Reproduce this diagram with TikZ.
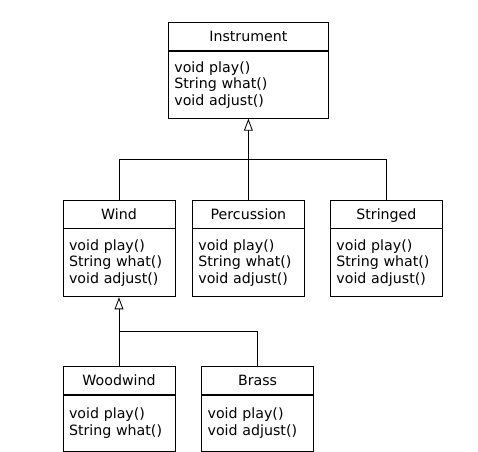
\documentclass[tikz,border=0pt]{standalone}
\usepackage{fontspec}
\setmainfont{DejaVu Sans}
\usepackage{tikz}
\usetikzlibrary{positioning,arrows.meta}

\begin{document}
\begin{tikzpicture}[xscale=1, yscale=1, line width=0.6pt,
  classname/.style={draw, minimum width=#1, minimum height=0.7cm, inner sep=0pt, text height=0.73em, text depth=0pt, font=\fontsize{10.1}{11.7}\selectfont},
  classops/.style={draw, text width=#1, align=left, inner xsep=0.15cm, inner ysep=0.2cm, font=\fontsize{10.1}{11.7}\selectfont},
  isa/.style={-{Triangle[open, length=0.3cm, width=0.22cm]}}]
\useasboundingbox (0,0) rectangle (11.95,-11.275);

% base class
\node[classname=4cm] (instrument) at (6.21,-0.91) {Instrument};
\node[classops=3.7cm, minimum height=1.675cm, below=0pt of instrument] (instrumentops) {void play()\\String what()\\void adjust()};

% first level
\node[classname=2.8cm] (wind) at (2.975,-5.35) {Wind};
\node[classops=2.5cm, minimum height=1.7cm, below=0pt of wind] (windops) {void play()\\String what()\\void adjust()};
\node[classname=2.8cm] (percussion) at (6.21,-5.35) {Percussion};
\node[classops=2.5cm, minimum height=1.7cm, below=0pt of percussion] (percussionops) {void play()\\String what()\\void adjust()};
\node[classname=2.8cm] (stringed) at (9.66,-5.35) {Stringed};
\node[classops=2.5cm, minimum height=1.7cm, below=0pt of stringed] (stringedops) {void play()\\String what()\\void adjust()};

% second level
\node[classname=2.8cm] (woodwind) at (2.975,-9.51) {Woodwind};
\node[classops=2.5cm, minimum height=1.4cm, below=0pt of woodwind] (woodwindops) {void play()\\String what()};
\node[classname=2.8cm] (brass) at (6.44,-9.51) {Brass};
\node[classops=2.5cm, minimum height=1.4cm, below=0pt of brass] (brassops) {void play()\\void adjust()};

% inheritance
\coordinate (busA) at (0,-3.975);
\coordinate (busB) at (0,-8.275);
\draw[isa] (percussion.north) -- (instrumentops.south);
\draw (wind.north) -- (wind.north |- busA) -- (stringed.north |- busA) -- (stringed.north);
\draw[isa] (woodwind.north) -- (windops.south);
\draw (woodwind.north |- busB) -- (brass.north |- busB) -- (brass.north);

\end{tikzpicture}
\end{document}
